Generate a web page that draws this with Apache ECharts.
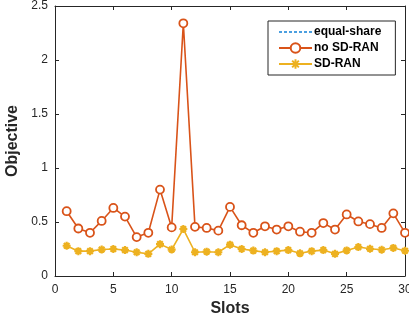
<!DOCTYPE html>
<html lang="en">
<head>
  <meta charset="UTF-8">
  <title>Objective per slot</title>
  <style>
    html, body { margin: 0; padding: 0; background: #fff; }
    #chart { width: 409px; height: 323px; }
  </style>
</head>
<body>
  <div id="chart"></div>
  <script src="https://cdn.jsdelivr.net/npm/echarts@6.0.0/dist/echarts.min.js"></script>
  <script>
    // data
    const slots = [1, 2, 3, 4, 5, 6, 7, 8, 9, 10, 11, 12, 13, 14, 15,
                   16, 17, 18, 19, 20, 21, 22, 23, 24, 25, 26, 27, 28, 29, 30];
    const noSdRan = [0.60, 0.44, 0.40, 0.51, 0.63, 0.55, 0.36, 0.40, 0.80, 0.45,
                     2.34, 0.455, 0.445, 0.42, 0.64, 0.47, 0.40, 0.46, 0.43, 0.46,
                     0.41, 0.40, 0.49, 0.43, 0.57, 0.505, 0.48, 0.445, 0.58, 0.40];
    const sdRan = [0.28, 0.23, 0.23, 0.245, 0.25, 0.24, 0.22, 0.205, 0.295, 0.245,
                   0.435, 0.22, 0.225, 0.22, 0.29, 0.25, 0.235, 0.22, 0.23, 0.24,
                   0.21, 0.23, 0.24, 0.205, 0.237, 0.268, 0.252, 0.243, 0.26, 0.234];
    const equalShare = []; // only shown in the legend
    const xTicks = [0, 5, 10, 15, 20, 25, 30];
    const yTicks = [0, 0.5, 1, 1.5, 2, 2.5];

    const pair = (ys) => ys.map((v, i) => [slots[i], v]);

    const chart = echarts.init(document.getElementById('chart'));
    const font = 'Liberation Sans, Arial, Helvetica, sans-serif';
    const axisColor = '#262626';
    const asterisk = 'path://M0,-10L0,10M-10,0L10,0M-7,-7L7,7M-7,7L7,-7';

    const boxAxis = {
      axisLine: { show: true, onZero: false, lineStyle: { color: axisColor, width: 1 } },
      axisTick: { show: true, inside: true, length: 4, lineStyle: { color: axisColor } },
      splitLine: { show: false }
    };

    chart.setOption({
      animation: false,
      backgroundColor: '#fff',
      grid: { left: 55, right: 4, top: 6, bottom: 47, outerBoundsMode: 'none' },
      legend: {
        orient: 'vertical',
        left: 268,
        top: 21,
        padding: [5, 14, 5, 10],
        itemGap: 4,
        itemWidth: 33,
        itemHeight: 12,
        backgroundColor: '#fff',
        borderColor: axisColor,
        borderWidth: 1,
        borderRadius: 0,
        textStyle: { fontFamily: font, fontWeight: 'bold', fontSize: 12, color: '#000', padding: [0, 0, 0, -3] },
        data: [
          { name: 'equal-share', itemStyle: { color: 'transparent', borderWidth: 0, opacity: 0 } },
          { name: 'no SD-RAN' },
          { name: 'SD-RAN' }
        ]
      },
      xAxis: [
        Object.assign({
          type: 'value', min: 0, max: 30, interval: 5,
          name: 'Slots', nameLocation: 'middle', nameGap: 25,
          nameTextStyle: { fontFamily: font, fontWeight: 'bold', fontSize: 16, color: axisColor },
          axisLabel: { fontFamily: font, fontSize: 12, color: axisColor, margin: 8,
            formatter: (v) => xTicks.includes(v) ? String(v) : '' }
        }, boxAxis),
        Object.assign({
          type: 'value', min: 0, max: 30, interval: 5, position: 'top',
          axisLabel: { show: false }
        }, boxAxis)
      ],
      yAxis: [
        Object.assign({
          type: 'value', min: 0, max: 2.5, interval: 0.5,
          name: 'Objective', nameLocation: 'middle', nameGap: 28,
          nameTextStyle: { fontFamily: font, fontWeight: 'bold', fontSize: 16, color: axisColor },
          axisLabel: { fontFamily: font, fontSize: 12, color: axisColor, margin: 7,
            formatter: (v) => yTicks.includes(v) ? String(v) : '' }
        }, boxAxis),
        Object.assign({
          type: 'value', min: 0, max: 2.5, interval: 0.5, position: 'right',
          axisLabel: { show: false }
        }, boxAxis)
      ],
      series: [
        {
          name: 'equal-share', type: 'line', data: pair(equalShare),
          symbol: 'none', color: '#4a9fe0',
          lineStyle: { color: '#4a9fe0', width: 1, type: [3, 2] }
        },
        {
          name: 'no SD-RAN', type: 'line', data: pair(noSdRan),
          symbol: 'circle', symbolSize: 8, color: '#D95319',
          lineStyle: { color: '#D95319', width: 1.6 },
          itemStyle: { color: '#fff', borderColor: '#D95319', borderWidth: 1.8 }
        },
        {
          name: 'SD-RAN', type: 'line', data: pair(sdRan),
          symbol: asterisk, symbolSize: 8, color: '#EDB120',
          lineStyle: { color: '#EDB120', width: 1.6 },
          itemStyle: { color: '#EDB120', borderColor: '#EDB120', borderWidth: 2.2 }
        }
      ]
    });
  </script>
</body>
</html>
